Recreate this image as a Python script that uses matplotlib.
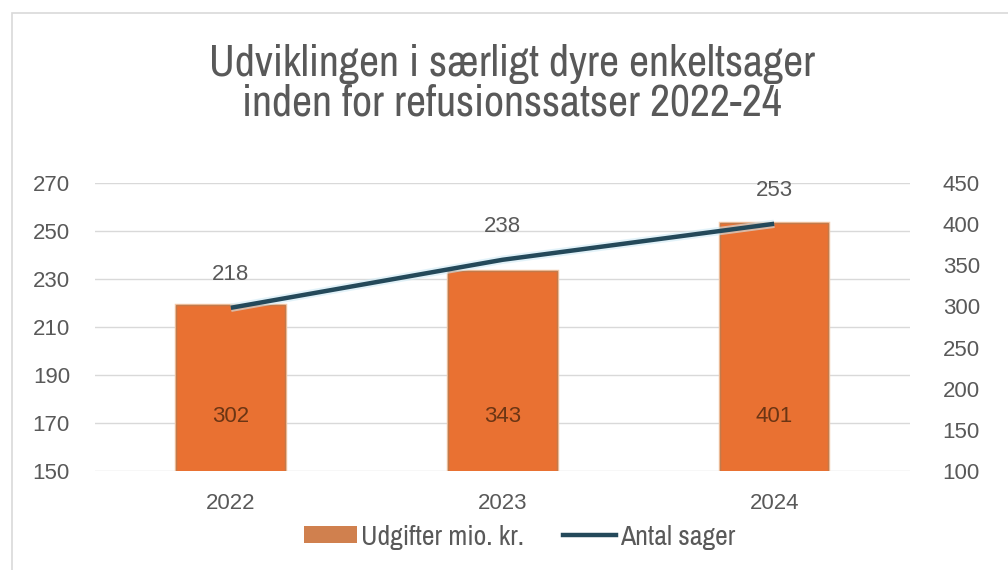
import matplotlib.pyplot as plt
import matplotlib.patches as patches
from matplotlib.lines import Line2D
from matplotlib import font_manager

# narrow font for title / legend if one is installed
names = sorted({f.name for f in font_manager.fontManager.ttflist})
narrow = [n for n in names if 'Narrow' in n or 'Condensed' in n]
title_family = narrow[:1] + ['Liberation Sans', 'DejaVu Sans']
plt.rcParams['font.family'] = ['Liberation Sans', 'DejaVu Sans']

# data
years = ['2022', '2023', '2024']
udgifter = [302, 343, 401]      # mio. kr. (right axis, bars)
antal_sager = [218, 238, 253]   # count (left axis, line)

text_col = '#595959'
bar_col = '#E97132'
line_col = '#24495A'
grid_col = '#D9D9D9'

fig = plt.figure(figsize=(10.08, 5.7), dpi=100)

# outer chart frame
frame = patches.Rectangle((12 / 1008, -0.2), 1.2, 1.2 - 13 / 570,
                          transform=fig.transFigure, fill=False,
                          edgecolor=grid_col, linewidth=1.2)
fig.patches.append(frame)

ax = fig.add_axes([95 / 1008, 1 - 471 / 570, 815 / 1008, 288 / 570])
ax2 = ax.twinx()

x = list(range(len(years)))

# bars on secondary axis
ax2.bar(x, udgifter, width=0.4, bottom=0, color=bar_col,
        edgecolor='#F5C9A8', linewidth=2.5, zorder=2)
ax2.bar(x, udgifter, width=0.4, bottom=0, color=bar_col,
        edgecolor='#C27B4C', linewidth=1.0, zorder=2)
ax2.set_ylim(100, 450)
ax2.set_yticks(range(100, 451, 50))
for xi, v in zip(x, udgifter):
    ax2.annotate(str(v), (xi, 100), xytext=(0, 39), textcoords='offset points',
                 ha='center', va='center', fontsize=16, color='#6B3514')

# line on primary axis, drawn above bars
ax.set_zorder(ax2.get_zorder() + 1)
ax.patch.set_visible(False)
ax.plot(x, antal_sager, color='#CFEAF5', linewidth=6, alpha=0.6, solid_capstyle='butt')
ax.plot(x, antal_sager, color=line_col, linewidth=3.2, solid_capstyle='butt')
for xi, v in zip(x, antal_sager):
    ax.annotate(str(v), (xi, v), xytext=(0, 24), textcoords='offset points',
                ha='center', va='center', fontsize=16, color=text_col)
ax.set_ylim(150, 270)
ax.set_yticks(range(150, 271, 20))
ax.set_xlim(-0.5, 2.5)
ax.set_xticks(x)
ax.set_xticklabels(years)

# gridlines behind everything (drawn on the bar axis)
for t in range(150, 271, 20):
    ax2.axhline(100 + (t - 150) / 120 * 350, color=grid_col, linewidth=1, zorder=0)

for a in (ax, ax2):
    for s in a.spines.values():
        s.set_visible(False)
    a.tick_params(length=0, colors=text_col, labelsize=16)
ax.tick_params(axis='y', pad=18)
ax2.tick_params(axis='y', pad=23.5)
ax.tick_params(axis='x', pad=16, labelsize=16)

fig.text(0.508, 1 - 84 / 570, 'Udviklingen i særligt dyre enkeltsager\ninden for refusionssatser 2022-24',
         ha='center', va='center', fontsize=26 if not narrow else 31.5, color=text_col,
         linespacing=1.0, family=title_family)

handles = [patches.Patch(facecolor='#D0804E', edgecolor='none'),
           Line2D([0], [0], color=line_col, linewidth=3.2)]
fig.legend(handles, ['Udgifter mio. kr.', 'Antal sager'], loc='center',
           bbox_to_anchor=(520 / 1008, 1 - 537 / 570), ncol=2, frameon=False,
           labelcolor=text_col, handlelength=1.9, handleheight=0.55,
           handletextpad=0.15, columnspacing=1.4, prop={'family': title_family, 'size': 20})

fig.savefig('out.png', dpi=100)
